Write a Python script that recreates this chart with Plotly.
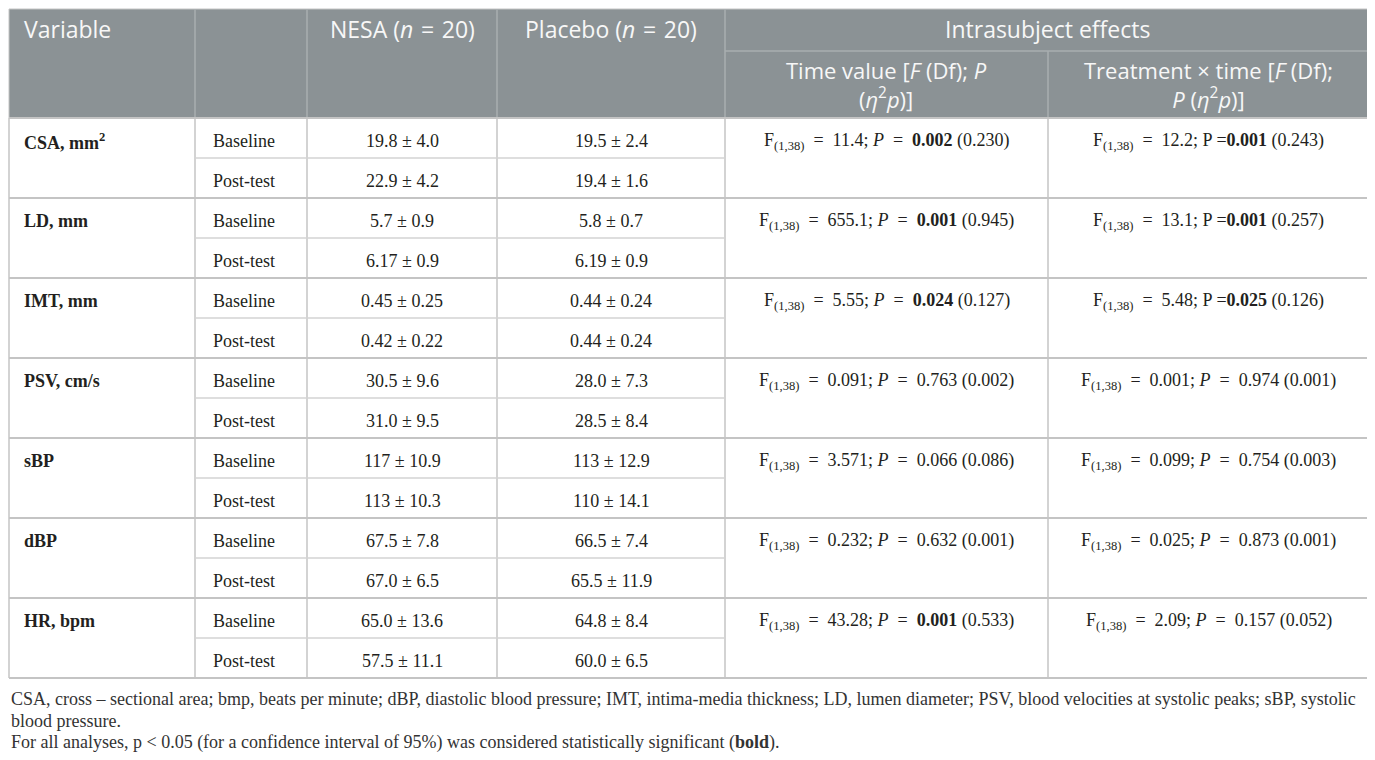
import plotly.graph_objects as go

# table content
variables = ["CSA, mm<sup>2</sup>", "LD, mm", "IMT, mm", "PSV, cm/s", "sBP", "dBP", "HR, bpm"]
timepoints = ["Baseline", "Post-test"]
nesa_baseline = ["19.8 ± 4.0", "5.7 ± 0.9", "0.45 ± 0.25", "30.5 ± 9.6", "117 ± 10.9", "67.5 ± 7.8", "65.0 ± 13.6"]
nesa_post = ["22.9 ± 4.2", "6.17 ± 0.9", "0.42 ± 0.22", "31.0 ± 9.5", "113 ± 10.3", "67.0 ± 6.5", "57.5 ± 11.1"]
placebo_baseline = ["19.5 ± 2.4", "5.8 ± 0.7", "0.44 ± 0.24", "28.0 ± 7.3", "113 ± 12.9", "66.5 ± 7.4", "64.8 ± 8.4"]
placebo_post = ["19.4 ± 1.6", "6.19 ± 0.9", "0.44 ± 0.24", "28.5 ± 8.4", "110 ± 14.1", "65.5 ± 11.9", "60.0 ± 6.5"]
time_f = ["11.4", "655.1", "5.55", "0.091", "3.571", "0.232", "43.28"]
time_p = ["0.002", "0.001", "0.024", "0.763", "0.066", "0.632", "0.001"]
time_eta = ["0.230", "0.945", "0.127", "0.002", "0.086", "0.001", "0.533"]
treat_f = ["12.2", "13.1", "5.48", "0.001", "0.099", "0.025", "2.09"]
treat_p = ["0.001", "0.001", "0.025", "0.974", "0.754", "0.873", "0.157"]
treat_eta = ["0.243", "0.257", "0.126", "0.001", "0.003", "0.001", "0.052"]

footnotes = [
    "CSA, cross – sectional area; bmp, beats per minute; dBP, diastolic blood pressure; IMT, intima-media thickness; "
    "LD, lumen diameter; PSV, blood velocities at systolic peaks; sBP, systolic",
    "blood pressure.",
    "For all analyses, p &lt; 0.05 (for a confidence interval of 95%) was considered statistically significant (<b>bold</b>).",
]

# layout in page pixels (page body has an 8px margin, so the figure is shifted)
W, H = 1375, 760
PAD = 8
col_edges = [9, 195, 307, 497, 725, 1048, 1369]
head_top, head_mid, head_bot = 9, 51, 118
row_h = 40
body_bot = head_bot + 2 * row_h * len(variables)

HEAD_FILL = "#8b9295"
HEAD_LINE = "#a9aeb0"
GRID = "#c4c4c4"
TEXT = "#231f20"
SP = "\u2002"  # wide space around "=" like the math setting in the original
HSP = "\u2004"
HEAD_FONT = dict(family="Open Sans", size=23, color="#f7f7f7")
SUBHEAD_FONT = dict(family="Open Sans", size=22, color="#f7f7f7")
BODY_FONT = dict(family="Liberation Serif", size=18, color=TEXT)


def mid(a, b):
    return (col_edges[a] + col_edges[b]) / 2


def time_text(f, p, eta):
    pv = f"<b>{p}</b>" if float(p) < 0.05 else p
    return f"F<sub>(1,38)</sub>{SP}={SP}{f}; <i>P</i>{SP}={SP}{pv} ({eta})"


def treat_text(f, p, eta):
    if float(p) < 0.05:
        return f"F<sub>(1,38)</sub>{SP}={SP}{f}; P =<b>{p}</b> ({eta})"
    return f"F<sub>(1,38)</sub>{SP}={SP}{f}; <i>P</i>{SP}={SP}{p} ({eta})"


shapes = []
annotations = []


def line(x0, y0, x1, y1, color, width):
    shapes.append(dict(type="line", xref="x", yref="y", x0=x0, y0=y0, x1=x1, y1=y1,
                       line=dict(color=color, width=width)))


def text(x, y, s, font, anchor="center"):
    annotations.append(dict(x=x, y=y, xref="x", yref="y", text=s, showarrow=False,
                            xanchor=anchor, yanchor="middle", font=font))


# header block
shapes.append(dict(type="rect", xref="x", yref="y", x0=col_edges[0], y0=head_top,
                   x1=col_edges[-1], y1=head_bot, fillcolor=HEAD_FILL, line=dict(color=GRID, width=1)))
for x in col_edges[1:5]:
    line(x, head_top, x, head_bot, HEAD_LINE, 1.5)
line(col_edges[5], head_mid, col_edges[5], head_bot, HEAD_LINE, 1.5)
line(col_edges[4], head_mid, col_edges[6], head_mid, HEAD_LINE, 1.5)

text(col_edges[0] + 13, 29, "Variable", HEAD_FONT, "left")
text(mid(2, 3), 29, f"NESA (<i>n</i>{HSP}={HSP}20)", HEAD_FONT)
text(mid(3, 4), 29, f"Placebo (<i>n</i>{HSP}={HSP}20)", HEAD_FONT)
text(mid(4, 6), 29, "Intrasubject effects", HEAD_FONT)
text(mid(4, 5), 84, "Time value [<i>F</i> (Df); <i>P</i><br>(<i>η</i><sup>2</sup><i>p</i>)]", SUBHEAD_FONT)
text(mid(5, 6), 84, "Treatment × time [<i>F</i> (Df);<br><i>P</i> (<i>η</i><sup>2</sup><i>p</i>)]", SUBHEAD_FONT)

# body grid
for x in col_edges:
    line(x, head_bot, x, body_bot, GRID, 1.5)
for g in range(len(variables) + 1):
    y = head_bot + 2 * row_h * g
    line(col_edges[0], y, col_edges[-1], y, GRID, 2)
    if g < len(variables):
        line(col_edges[1], y + row_h, col_edges[4], y + row_h, "#d3d3d3", 1.5)

# body text
for g, var in enumerate(variables):
    top = head_bot + 2 * row_h * g
    y1, y2 = top + row_h / 2 + 3, top + 1.5 * row_h + 3
    text(col_edges[0] + 13, y1, f"<b>{var}</b>", BODY_FONT, "left")
    text(col_edges[1] + 16, y1, timepoints[0], BODY_FONT, "left")
    text(col_edges[1] + 16, y2, timepoints[1], BODY_FONT, "left")
    text(mid(2, 3), y1, nesa_baseline[g], BODY_FONT)
    text(mid(2, 3), y2, nesa_post[g], BODY_FONT)
    text(mid(3, 4), y1, placebo_baseline[g], BODY_FONT)
    text(mid(3, 4), y2, placebo_post[g], BODY_FONT)
    text(mid(4, 5), y1, time_text(time_f[g], time_p[g], time_eta[g]), BODY_FONT)
    text(mid(5, 6), y1, treat_text(treat_f[g], treat_p[g], treat_eta[g]), BODY_FONT)

# footnotes
foot_font = dict(family="Liberation Serif", size=18, color="#333333")
for i, note in enumerate(footnotes):
    text(PAD + 0.5, 699 + 21.5 * i, note, foot_font, "left")

fig = go.Figure()
fig.update_layout(
    width=W - PAD, height=H - PAD,
    margin=dict(l=0, r=0, t=0, b=0),
    paper_bgcolor="white", plot_bgcolor="white",
    xaxis=dict(range=[PAD, W], visible=False, fixedrange=True),
    yaxis=dict(range=[H, PAD], visible=False, fixedrange=True),
    shapes=shapes, annotations=annotations, showlegend=False,
)

fig.write_html("out.html")
